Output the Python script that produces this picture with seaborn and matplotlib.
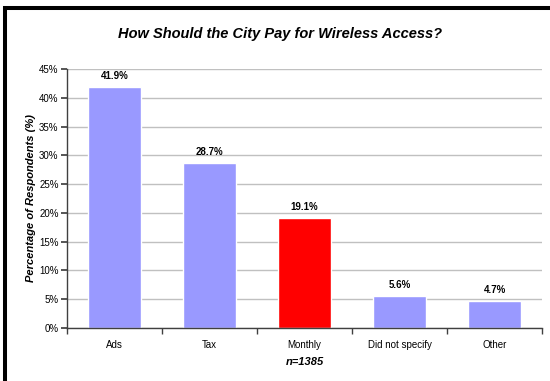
import matplotlib
matplotlib.use("Agg")
import matplotlib.pyplot as plt
import matplotlib.patches as mpatches
from matplotlib.ticker import FuncFormatter, MultipleLocator
import seaborn as sns
import pandas as pd

categories = ["Ads", "Tax", "Monthly", "Did not specify", "Other"]
percentages = [41.9, 28.7, 19.1, 5.6, 4.7]
bar_colors = ["#9999FF", "#9999FF", "#FF0000", "#9999FF", "#9999FF"]

title = "How Should the City Pay for Wireless Access?"
y_label = "Percentage of Respondents (%)"
x_label = "n=1385"

sns.set_theme(style="white")
plt.rcParams["font.family"] = ["Liberation Sans", "DejaVu Sans"]
plt.rcParams.update({"text.color": "black", "axes.labelcolor": "black",
                     "xtick.color": "black", "ytick.color": "black"})

df = pd.DataFrame({"category": categories, "pct": percentages})

fig = plt.figure(figsize=(5.5, 3.81), dpi=100)
ax = fig.add_axes([67 / 550, 1 - 328 / 381, (542 - 67) / 550, (328 - 69) / 381])

sns.barplot(data=df, x="category", y="pct", hue="category", palette=bar_colors,
            width=0.56, legend=False, ax=ax, saturation=1)

ax.set_ylim(0, 45)
ax.set_xlim(-0.5, len(categories) - 0.5)
ax.yaxis.set_major_locator(MultipleLocator(5))
ax.yaxis.set_major_formatter(FuncFormatter(lambda v, _: f"{v:.0f}%"))
ax.grid(axis="y", color="#C0C0C0", linewidth=1)
ax.set_axisbelow(True)

for side in ("top", "right"):
    ax.spines[side].set_visible(False)
for side in ("left", "bottom"):
    ax.spines[side].set_color("#404040")
    ax.spines[side].set_linewidth(1)

# category ticks sit on the boundaries between bars
ax.set_xticks(range(len(categories)))
ax.set_xticklabels(categories)
ax.tick_params(axis="x", length=0, labelsize=7, pad=9)
ax.set_xticks([i - 0.5 for i in range(len(categories) + 1)], minor=True)
ax.tick_params(axis="x", which="minor", length=4, direction="out", color="#404040", bottom=True)
ax.tick_params(axis="y", length=4, direction="out", color="#404040", labelsize=7, pad=2, left=True)

for i, v in enumerate(percentages):
    ax.text(i, v + 1.0, f"{v:.1f}%", ha="center", va="bottom", fontsize=7, fontweight="bold")

ax.set_xlabel(x_label, fontsize=8, fontweight="bold", style="italic", labelpad=5)
ax.set_ylabel(y_label, fontsize=8, fontweight="bold", style="italic", labelpad=2)

fig.text(280 / 550, 1 - 34 / 381, title,
         ha="center", va="center", fontsize=10.5, fontweight="bold", style="italic")

# heavy frame along the top and left edges
fig.patches.append(mpatches.Rectangle((5 / 550, -0.1), 1.2, 1 - 8 / 381 + 0.1,
                                      transform=fig.transFigure, fill=False,
                                      edgecolor="black", linewidth=2.9, clip_on=False))

fig.savefig("out.png", dpi=100)
